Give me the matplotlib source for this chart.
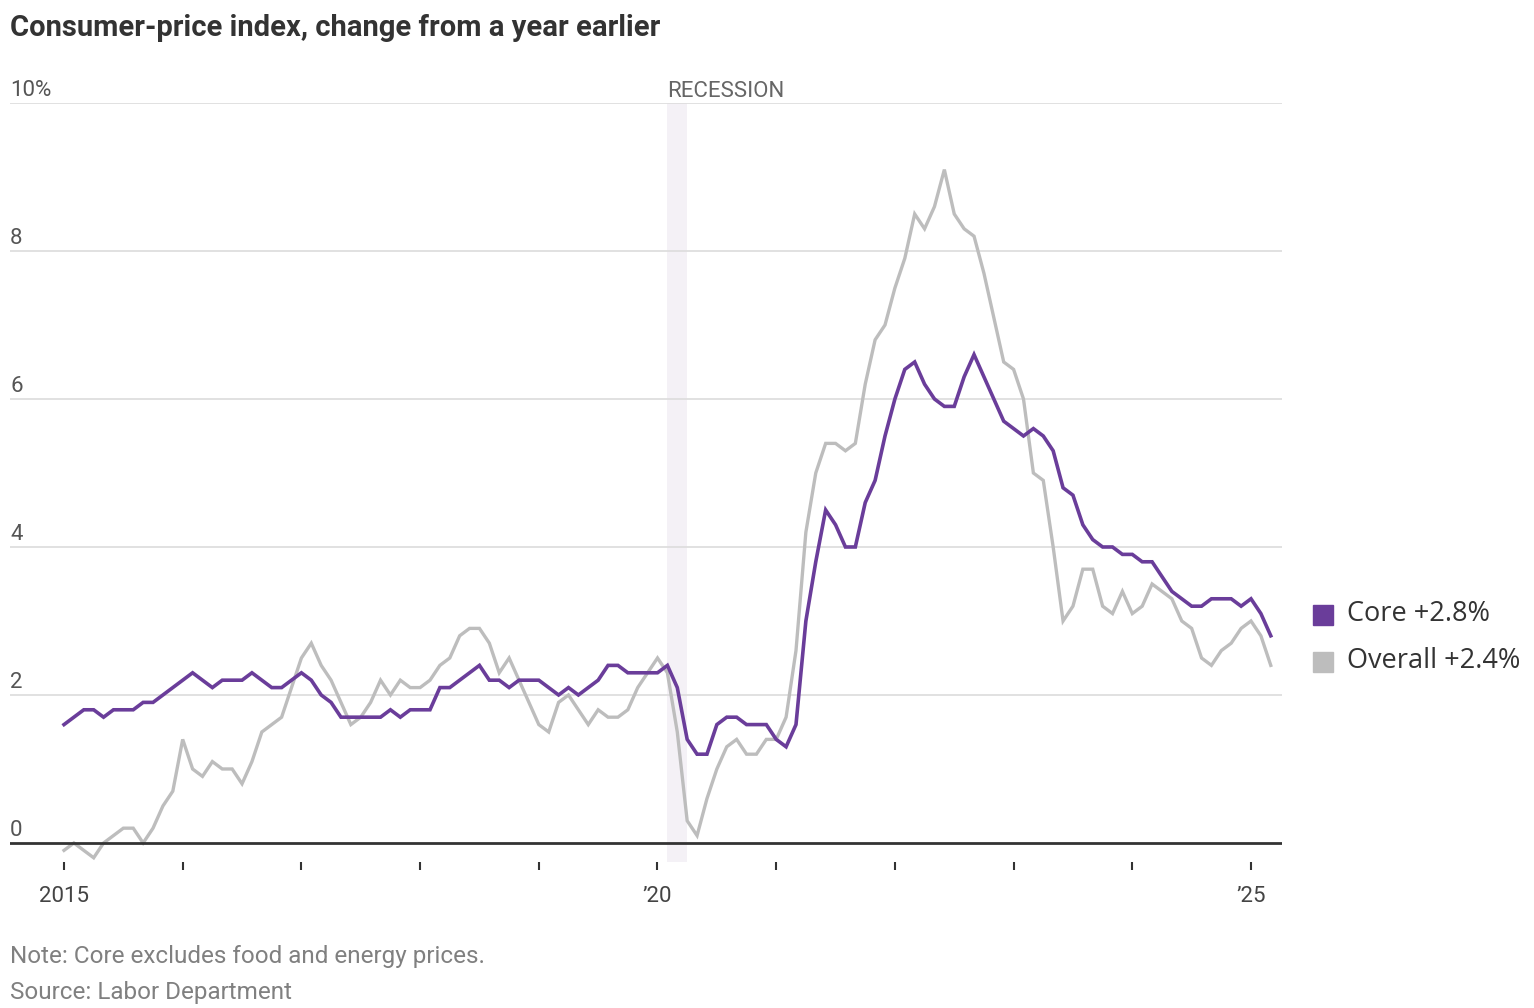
import matplotlib
matplotlib.use("Agg")
import matplotlib.pyplot as plt
import matplotlib.transforms as mtransforms
from matplotlib import font_manager

# ----------------------------------------------------------------------
# Data: year-over-year CPI change, monthly, Jan 2015 - Mar 2025
# ----------------------------------------------------------------------

core = [
    1.6, 1.7, 1.8, 1.8, 1.7, 1.8, 1.8, 1.8, 1.9, 1.9, 2.0, 2.1,   # 2015
    2.2, 2.3, 2.2, 2.1, 2.2, 2.2, 2.2, 2.3, 2.2, 2.1, 2.1, 2.2,   # 2016
    2.3, 2.2, 2.0, 1.9, 1.7, 1.7, 1.7, 1.7, 1.7, 1.8, 1.7, 1.8,   # 2017
    1.8, 1.8, 2.1, 2.1, 2.2, 2.3, 2.4, 2.2, 2.2, 2.1, 2.2, 2.2,   # 2018
    2.2, 2.1, 2.0, 2.1, 2.0, 2.1, 2.2, 2.4, 2.4, 2.3, 2.3, 2.3,   # 2019
    2.3, 2.4, 2.1, 1.4, 1.2, 1.2, 1.6, 1.7, 1.7, 1.6, 1.6, 1.6,   # 2020
    1.4, 1.3, 1.6, 3.0, 3.8, 4.5, 4.3, 4.0, 4.0, 4.6, 4.9, 5.5,   # 2021
    6.0, 6.4, 6.5, 6.2, 6.0, 5.9, 5.9, 6.3, 6.6, 6.3, 6.0, 5.7,   # 2022
    5.6, 5.5, 5.6, 5.5, 5.3, 4.8, 4.7, 4.3, 4.1, 4.0, 4.0, 3.9,   # 2023
    3.9, 3.8, 3.8, 3.6, 3.4, 3.3, 3.2, 3.2, 3.3, 3.3, 3.3, 3.2,   # 2024
    3.3, 3.1, 2.8,                                                # 2025
]

overall = [
    -0.1, 0.0, -0.1, -0.2, 0.0, 0.1, 0.2, 0.2, 0.0, 0.2, 0.5, 0.7,  # 2015
    1.4, 1.0, 0.9, 1.1, 1.0, 1.0, 0.8, 1.1, 1.5, 1.6, 1.7, 2.1,     # 2016
    2.5, 2.7, 2.4, 2.2, 1.9, 1.6, 1.7, 1.9, 2.2, 2.0, 2.2, 2.1,     # 2017
    2.1, 2.2, 2.4, 2.5, 2.8, 2.9, 2.9, 2.7, 2.3, 2.5, 2.2, 1.9,     # 2018
    1.6, 1.5, 1.9, 2.0, 1.8, 1.6, 1.8, 1.7, 1.7, 1.8, 2.1, 2.3,     # 2019
    2.5, 2.3, 1.5, 0.3, 0.1, 0.6, 1.0, 1.3, 1.4, 1.2, 1.2, 1.4,     # 2020
    1.4, 1.7, 2.6, 4.2, 5.0, 5.4, 5.4, 5.3, 5.4, 6.2, 6.8, 7.0,     # 2021
    7.5, 7.9, 8.5, 8.3, 8.6, 9.1, 8.5, 8.3, 8.2, 7.7, 7.1, 6.5,     # 2022
    6.4, 6.0, 5.0, 4.9, 4.0, 3.0, 3.2, 3.7, 3.7, 3.2, 3.1, 3.4,     # 2023
    3.1, 3.2, 3.5, 3.4, 3.3, 3.0, 2.9, 2.5, 2.4, 2.6, 2.7, 2.9,     # 2024
    3.0, 2.8, 2.4,                                                  # 2025
]

start_year = 2015
recession = (2020 + 1 / 12, 2020 + 3 / 12)   # Feb - Apr 2020

y_ticks = [0, 2, 4, 6, 8, 10]
y_labels = ["0", "2", "4", "6", "8", "10%"]
major_years = [2015, 2020, 2025]
major_labels = ["2015", "\u201920", "\u201925"]
minor_years = [2016, 2017, 2018, 2019, 2021, 2022, 2023, 2024]

legend_items = [("Core +2.8%", "#6a3d9a"), ("Overall +2.4%", "#bdbdbd")]

# months as fractional years
x = [start_year + i / 12 for i in range(len(core))]

# ----------------------------------------------------------------------
# Fonts
# ----------------------------------------------------------------------

available = {f.name for f in font_manager.fontManager.ttflist}
narrow = "Liberation Sans Narrow" if "Liberation Sans Narrow" in available else "Roboto"
plain = "Open Sans" if "Open Sans" in available else "DejaVu Sans"

# ----------------------------------------------------------------------
# Figure
# ----------------------------------------------------------------------

W, H = 1534, 1008
fig = plt.figure(figsize=(W / 100, H / 100), dpi=100)

# axes in pixel terms: x 10..1282, y 103..862
left, right, top, bottom = 10, 1282, 103, 862
ax = fig.add_axes([left / W, 1 - bottom / H, (right - left) / W, (bottom - top) / H])

px_per_year = 118.7
x0 = start_year - (64 - left) / px_per_year
x1 = start_year + (right - 64) / px_per_year
ax.set_xlim(x0, x1)
ax.set_ylim(-0.257, 10)

for s in ax.spines.values():
    s.set_visible(False)

# gridlines
for t in y_ticks[1:]:
    ax.axhline(t, color="#dcdcdc", lw=1.2, zorder=1)
ax.axhline(0, color="#333333", lw=2.0, zorder=4)

# recession band
ax.axvspan(recession[0], recession[1], color="#f4f1f6", lw=0, zorder=0)
ax.text(recession[0], 10.02, "RECESSION", fontsize=16, color="#666666",
        family=narrow, ha="left", va="bottom")

# lines
ax.plot(x, overall, color="#bdbdbd", lw=2.4, zorder=3, solid_joinstyle="miter")
ax.plot(x, core, color="#6a3d9a", lw=2.6, zorder=3, solid_joinstyle="miter")

# y labels above gridlines, left aligned
trans = mtransforms.blended_transform_factory(ax.transAxes, ax.transData)
for t, lab in zip(y_ticks, y_labels):
    ax.text(0, t + 0.03, lab, transform=trans, fontsize=16, color="#555555",
            family=narrow, ha="left", va="bottom")
ax.set_yticks([])

# x ticks
ax.set_xticks(major_years)
ax.set_xticklabels(major_labels, family=narrow, fontsize=16, color="#444444")
ax.set_xticks(minor_years, minor=True)
ax.tick_params(axis="x", which="both", direction="out", length=6, width=1.5,
               color="#333333", pad=11)

# title and notes
fig.text(10 / W, 1 - 28 / H, "Consumer-price index, change from a year earlier",
         fontsize=21, fontweight="bold", family=narrow, color="#333333",
         ha="left", va="center")
fig.text(10 / W, 1 - 957 / H, "Note: Core excludes food and energy prices.",
         fontsize=17.5, family=narrow, color="#808080",
         ha="left", va="center")
fig.text(10 / W, 1 - 993 / H, "Source: Labor Department",
         fontsize=17.5, family=narrow, color="#808080",
         ha="left", va="center")

# legend
for i, (lab, col) in enumerate(legend_items):
    yc = 615 + i * 47
    fig.patches.append(plt.Rectangle((1313 / W, 1 - (yc + 10) / H), 20 / W, 20 / H,
                                     transform=fig.transFigure, color=col))
    fig.text(1347 / W, 1 - (yc - 1) / H, lab, fontsize=19.5, family=plain,
             color="#333333", ha="left", va="center")

fig.savefig("out.png", dpi=100)
